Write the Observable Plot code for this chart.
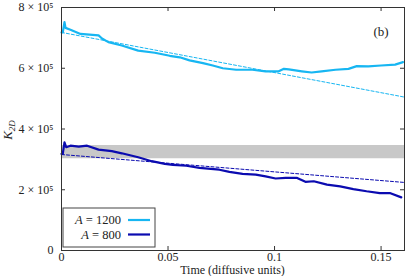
<!DOCTYPE html>
<html><head><meta charset="utf-8">
<script src="https://cdn.jsdelivr.net/npm/d3@7"></script>
<script src="https://cdn.jsdelivr.net/npm/@observablehq/plot@0.6"></script>
<style>
body{margin:0;background:#fff;}
svg, svg text{font-family:"Liberation Serif","DejaVu Serif",serif !important;}
</style>
</head><body>
<div id="chart"></div>
<script>
// time (diffusive units)
const tHigh = [0,0.0006,0.0014,0.0019,0.0042,0.0089,0.0174,0.019,0.022,0.0283,0.036,0.0438,0.0508,0.0555,0.0601,0.0664,0.071,0.0757,0.082,0.0896,0.0958,0.102,0.1044,0.1067,0.1128,0.1174,0.1221,0.1286,0.1347,0.1386,0.144,0.150,0.1566,0.1603];
// K_2D for A = 1200 (units of 1e5)
const kHigh = [7.18,7.18,7.52,7.33,7.27,7.13,7.08,6.98,6.86,6.75,6.58,6.51,6.41,6.36,6.26,6.17,6.09,6.00,5.95,5.95,5.90,5.90,5.98,5.96,5.90,5.86,5.90,5.95,5.98,6.07,6.06,6.09,6.12,6.20];
const tLow = [0,0.0006,0.0014,0.0022,0.0042,0.0081,0.012,0.0174,0.0236,0.0283,0.036,0.0423,0.0485,0.0523,0.0586,0.0648,0.0741,0.0788,0.085,0.0912,0.0958,0.1005,0.1052,0.1106,0.1145,0.1184,0.1246,0.1308,0.137,0.1432,0.1494,0.1541,0.1595];
// K_2D for A = 800 (units of 1e5)
const kLow = [3.18,3.18,3.56,3.40,3.45,3.42,3.45,3.32,3.27,3.20,3.07,2.94,2.85,2.82,2.79,2.72,2.66,2.59,2.52,2.50,2.44,2.37,2.39,2.39,2.26,2.28,2.17,2.11,2.02,1.95,1.89,1.89,1.75];
// linear fits (dashed)
const fitT = [0, 0.161];
const fitHigh = [7.18, 5.05];
const fitLow = [3.16, 2.24];
// grey band
const bandLow = 3.02, bandHigh = 3.46;
const xTicks = [0, 0.05, 0.1, 0.15];
const yTicks = [0, 2e5, 4e5, 6e5, 8e5];
const seriesNames = ["A = 1200", "A = 800"];
const colors = ["#17b6f2", "#0b0bb0"];

const S = 1e5;
const high = tHigh.map((t,i)=>({t, k:kHigh[i]*S}));
const low = tLow.map((t,i)=>({t, k:kLow[i]*S}));
const fh = fitT.map((t,i)=>({t, k:fitHigh[i]*S}));
const fl = fitT.map((t,i)=>({t, k:fitLow[i]*S}));
const band = fitT.map(t=>({t, y1:bandLow*S, y2:bandHigh*S}));

const W=407,H=276,mL=61,mR=3,mT=7,mB=26;
const fw=W-mL-mR, fh2=H-mT-mB;
const FF = "Liberation Serif, DejaVu Serif, serif";

const plot = Plot.plot({
  width:W, height:H, marginLeft:mL, marginRight:mR, marginTop:mT, marginBottom:mB,
  style:{fontFamily:FF, fontSize:"11.5px", color:"#222", background:"#fff"},
  x:{domain:[0,0.161]},
  y:{domain:[0,8e5]},
  marks:[
    Plot.areaY(band,{x:"t",y1:"y1",y2:"y2",fill:"#c8c8c8"}),
    Plot.line(fh,{x:"t",y:"k",stroke:colors[0],strokeWidth:1,strokeDasharray:"3,2"}),
    Plot.line(fl,{x:"t",y:"k",stroke:colors[1],strokeWidth:1,strokeDasharray:"3,2"}),
    Plot.line(high,{x:"t",y:"k",stroke:colors[0],strokeWidth:2.2}),
    Plot.line(low,{x:"t",y:"k",stroke:colors[1],strokeWidth:2.2}),
    Plot.tickX(xTicks,{x:d=>d,insetTop:fh2-4,stroke:"#333"}),
    Plot.tickX(xTicks,{x:d=>d,insetBottom:fh2-4,stroke:"#333"}),
    Plot.tickY(yTicks,{y:d=>d,insetRight:fw-4,stroke:"#333"}),
    Plot.tickY(yTicks,{y:d=>d,insetLeft:fw-4,stroke:"#333"}),
    Plot.axisX({ticks:xTicks,tickSize:0,tickPadding:2,tickFormat:d=>d===0?"0":String(d),label:null,fontSize:12,fontFamily:FF}),
    Plot.axisY({ticks:yTicks,tickSize:0,tickPadding:8,tickFormat:d=>d===0?"0":`${d/1e5} × 10⁵`,label:null,fontSize:12,fontFamily:FF}),
    Plot.frame({stroke:"#333"})
  ]
});
document.getElementById("chart").appendChild(plot);

const svg = d3.select(plot);
// x-axis title
svg.append("text").attr("x",mL+fw/2).attr("y",274).attr("text-anchor","middle")
  .attr("font-size",12).attr("fill","#222").text("Time (diffusive units)");
// y-axis title
const yl = svg.append("text").attr("transform","translate(12,130) rotate(-90)")
  .attr("text-anchor","middle").attr("font-size",13).attr("fill","#222");
yl.append("tspan").attr("font-style","italic").text("K");
yl.append("tspan").attr("font-style","italic").attr("font-size",9).attr("dy",3).text("2D");
// panel label
svg.append("text").attr("x",381).attr("y",36).attr("text-anchor","middle")
  .attr("font-size",13).attr("fill","#222").text("(b)");
// legend
const lg = svg.append("g");
lg.append("rect").attr("x",63).attr("y",208).attr("width",92).attr("height",39)
  .attr("fill","#fff").attr("stroke","#444").attr("stroke-width",1);
seriesNames.forEach((name,i)=>{
  const y = 220 + i*14.5;
  const parts = name.split(" = ");
  const t = lg.append("text").attr("x",121).attr("y",y+4).attr("text-anchor","end")
    .attr("font-size",12.5).attr("fill","#222");
  t.append("tspan").attr("font-style","italic").text(parts[0]);
  t.append("tspan").text(" = " + parts[1]);
  lg.append("line").attr("x1",128).attr("x2",150).attr("y1",y).attr("y2",y)
    .attr("stroke",colors[i]).attr("stroke-width",2.2);
});
</script>
</body></html>
